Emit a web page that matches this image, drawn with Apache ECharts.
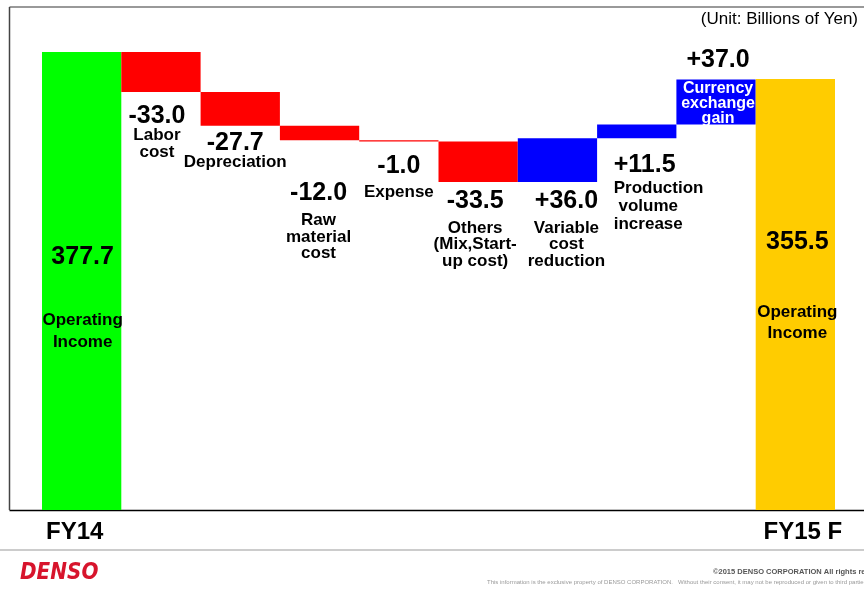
<!DOCTYPE html>
<html>
<head>
<meta charset="utf-8">
<title>Operating Income FY14 → FY15 F</title>
<script src="https://cdn.jsdelivr.net/npm/echarts@6/dist/echarts.min.js"></script>
<style>
  html, body { margin: 0; padding: 0; background: #fff; }
  #chart { width: 864px; height: 591px; }
</style>
</head>
<body>
<div id="chart"></div>
<script>
// ---- data ----
const categories = ['FY14', 'Labor cost', 'Depreciation', 'Raw material cost', 'Expense',
  'Others (Mix,Start-up cost)', 'Variable cost reduction', 'Production volume increase',
  'Currency exchange gain', 'FY15 F'];
const openingIncome = 377.7;
const closingIncome = 355.5;
const changes = [-33.0, -27.7, -12.0, -1.0, -33.5, 36.0, 11.5, 37.0];
const barNames = ['Operating\nIncome', 'Labor\ncost', 'Depreciation', 'Raw\nmaterial\ncost', 'Expense',
  'Others\n(Mix,Start-\nup cost)', 'Variable\ncost\nreduction', 'Production\n volume\nincrease',
  'Currency\nexchange\ngain', 'Operating\nIncome'];
const tickLabels = ['FY14', '', '', '', '', '', '', '', '', 'FY15 F'];
const unitText = '(Unit: Billions of Yen)';

// ---- styling / label placement ----
const FONT = '"Liberation Sans", Arial, sans-serif';
const COLORS = { opening: '#00FF00', closing: '#FFCC00', down: '#FF0000', up: '#0000FF' };
const labelLayout = [
  { pos: 'insideTop', dx: 1,  dy: 194,  gap: 41,  lh: 22 },
  { pos: 'bottom',    dx: -4, dy: 13,   gap: 0,   lh: 17 },
  { pos: 'bottom',    dx: -5, dy: 6.5,  gap: 0,   lh: 17 },
  { pos: 'bottom',    dx: -1, dy: 42,   gap: 8,   lh: 16.5 },
  { pos: 'bottom',    dx: 0,  dy: 13.5, gap: 7,   lh: 17 },
  { pos: 'bottom',    dx: -3, dy: 8.5,  gap: 7.5, lh: 16.5 },
  { pos: 'bottom',    dx: 9,  dy: 8.5,  gap: 7.5, lh: 16.5 },
  { pos: 'bottom',    dx: -23, dy: 16,  gap: 2.5, lh: 18, align: 'left' },
  { pos: 'insideTop', dx: 2,  dy: -30,  gap: 10,  lh: 15, nfs: 16, ncolor: '#FFFFFF' },
  { pos: 'insideTop', dx: 2,  dy: 152.5, gap: 48, lh: 21.5 }
];

// ---- waterfall geometry from the data ----
const baseData = [0];
const barData = [openingIncome];
const valueTexts = [openingIncome.toFixed(1)];
const barColors = [COLORS.opening];
let running = openingIncome;
changes.forEach(c => {
  baseData.push(Math.min(running, running + c));
  barData.push(Math.abs(c));
  valueTexts.push((c > 0 ? '+' : '') + c.toFixed(1));
  barColors.push(c < 0 ? COLORS.down : COLORS.up);
  running += c;
});
baseData.push(0);
barData.push(closingIncome);
valueTexts.push(closingIncome.toFixed(1));
barColors.push(COLORS.closing);

function makeLabel(i) {
  const L = labelLayout[i];
  const align = L.align || 'center';
  let text = '{amount|' + valueTexts[i] + '}\n';
  if (L.gap > 0) text += '{spacer| }\n';
  text += barNames[i].split('\n').map(s => '{name|' + s + '}').join('\n');
  return {
    show: true,
    position: L.pos,
    distance: 0,
    offset: [L.dx, L.dy],
    align: align,
    verticalAlign: 'top',
    color: '#000',
    textBorderWidth: 0,
    textBorderColor: 'transparent',
    fontFamily: FONT,
    fontWeight: 'bold',
    formatter: text,
    rich: {
      amount: { fontFamily: FONT, fontSize: 25, fontWeight: 'bold', color: '#000', lineHeight: 22, align: align,
                textBorderWidth: 0 },
      spacer: { fontSize: 1, lineHeight: L.gap },
      name: { fontFamily: FONT, fontSize: L.nfs || 17, fontWeight: 'bold', color: L.ncolor || '#000',
              lineHeight: L.lh, align: align, textBorderWidth: 0 }
    }
  };
}

const chart = echarts.init(document.getElementById('chart'), null, { renderer: 'canvas' });
chart.setOption({
  animation: false,
  backgroundColor: '#fff',
  grid: { left: 42, right: 29, top: 25, bottom: 81 },
  xAxis: {
    type: 'category',
    data: categories,
    axisLine: { show: false },
    axisTick: { show: false },
    splitLine: { show: false },
    axisLabel: {
      interval: 0,
      margin: 10,
      formatter: (v, idx) => {
        const t = tickLabels[idx];
        if (!t) return '';
        return idx === 0 ? '{first|' + t + '}' : '{last|' + t + '}';
      },
      rich: {
        first: { fontFamily: FONT, fontSize: 24, fontWeight: 'bold', color: '#000', lineHeight: 24, padding: [0, 14, 0, 0] },
        last:  { fontFamily: FONT, fontSize: 24, fontWeight: 'bold', color: '#000', lineHeight: 24, padding: [0, 0, 0, 15] }
      }
    }
  },
  yAxis: { type: 'value', min: 0, max: 400, show: false, splitLine: { show: false } },
  series: [
    {
      name: 'base',
      type: 'bar',
      stack: 'waterfall',
      silent: true,
      barWidth: '100%',
      barCategoryGap: '0%',
      itemStyle: { color: 'rgba(0,0,0,0)' },
      emphasis: { disabled: true },
      data: baseData
    },
    {
      name: 'Operating income bridge',
      type: 'bar',
      stack: 'waterfall',
      barWidth: '100%',
      barCategoryGap: '0%',
      emphasis: { disabled: true },
      data: barData.map((v, i) => ({
        value: v,
        itemStyle: { color: barColors[i] },
        label: makeLabel(i)
      }))
    }
  ],
  graphic: [
    // frame
    { type: 'line', silent: true, shape: { x1: 9.5, y1: 7, x2: 870, y2: 7 }, style: { stroke: '#777', lineWidth: 1.5 } },
    { type: 'line', silent: true, shape: { x1: 9.5, y1: 7, x2: 9.5, y2: 510 }, style: { stroke: '#444', lineWidth: 1.5 } },
    { type: 'line', silent: true, z: -1, shape: { x1: 9.5, y1: 510.5, x2: 870, y2: 510.5 }, style: { stroke: '#000', lineWidth: 1.5 } },
    // unit note
    { type: 'text', silent: true, right: 6, top: 11,
      style: { text: unitText, font: '17px ' + FONT, fill: '#000' } },
    // footer
    { type: 'line', silent: true, shape: { x1: 0, y1: 550, x2: 864, y2: 550 }, style: { stroke: '#cccccc', lineWidth: 2 } },
    { type: 'text', silent: true, x: 20, y: 562, scaleY: 1.15,
      style: { text: 'DENSO', font: 'italic bold 20px "DejaVu Sans", sans-serif', fill: '#d7142c' } },
    { type: 'text', silent: true, x: 713, y: 568,
      style: { text: '©2015 DENSO CORPORATION All rights reserved.', font: 'bold 7.5px ' + FONT, fill: '#555' } },
    { type: 'text', silent: true, x: 487, y: 579,
      style: { text: 'This information is the exclusive property of DENSO CORPORATION.   Without their consent, it may not be reproduced or given to third parties.',
               font: '6px ' + FONT, fill: '#999' } }
  ]
});
</script>
</body>
</html>
